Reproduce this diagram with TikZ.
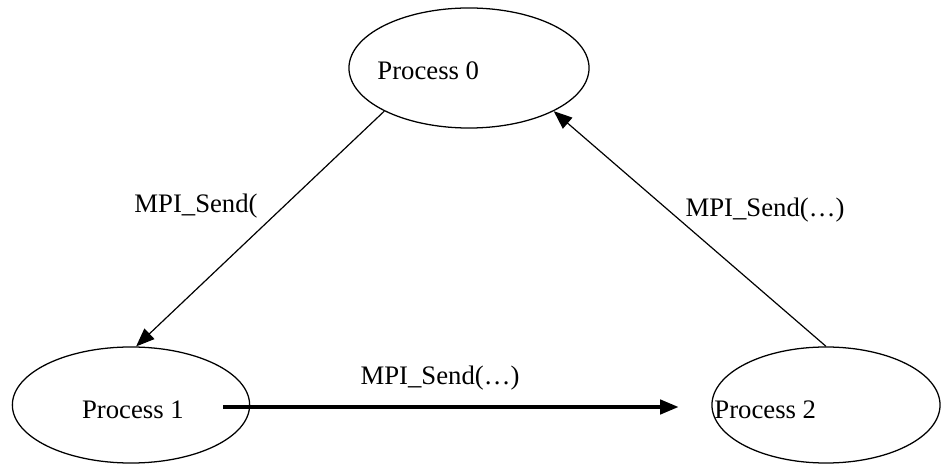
\documentclass[tikz,border=0pt]{standalone}
\usepackage{fontspec}
\setmainfont{Liberation Serif}
\usetikzlibrary{positioning,shapes.geometric,arrows.meta}

\begin{document}
\begin{tikzpicture}[x=0.025cm, y=-0.025cm]
   \tikzset{
     proc/.style  = { ellipse,
                      draw,
                      line width = 0.9pt,
                      inner sep  = 0pt },
     pname/.style = { inner sep = 0pt,
                      font      = \fontsize{19}{23}\selectfont },
     msg/.style   = { inner sep = 0pt,
                      font      = \fontsize{19}{23}\selectfont },
     send/.style  = { line width = 0.85pt,
                      -{Triangle[length=0.46cm, width=0.36cm]} },
  }
  \useasboundingbox (0,0) rectangle (942,465);

    % the three processes
    \node [proc, minimum width = 6.0cm, minimum height = 3.0cm] (P0) at (469,68) {};
    \node [proc, minimum width = 5.93cm, minimum height = 2.9cm] (P1) at (131,405) {};
    \node [proc, minimum width = 5.7cm, minimum height = 2.9cm] (P2) at (826,405) {};

    \node [pname, right = 0.72cm of P0.west, yshift = -0.08cm] (P0name) {Process 0};
    \node [pname, right = 1.75cm of P1.west, yshift = -0.12cm] (P1name) {Process 1};
    \node [pname, right = 0.07cm of P2.west, yshift = -0.12cm] (P2name) {Process 2};

    % messages
    \draw [send] (P0.207) -- (P1.85);
    \draw [send] (P2.north) -- (P0.333);
    \draw [send, line width = 2.3pt] ([xshift=-0.68cm, yshift=-0.05cm]P1.east) -- ([xshift=-0.82cm, yshift=-0.05cm]P2.west);

    \node [msg] (Send01) at (196,206) {MPI\_Send(};
    \node [msg] (Send20) at (765,210) {MPI\_Send(…)};
    \node [msg] (Send12) at (440,378) {MPI\_Send(…)};

\end{tikzpicture}
\end{document}
